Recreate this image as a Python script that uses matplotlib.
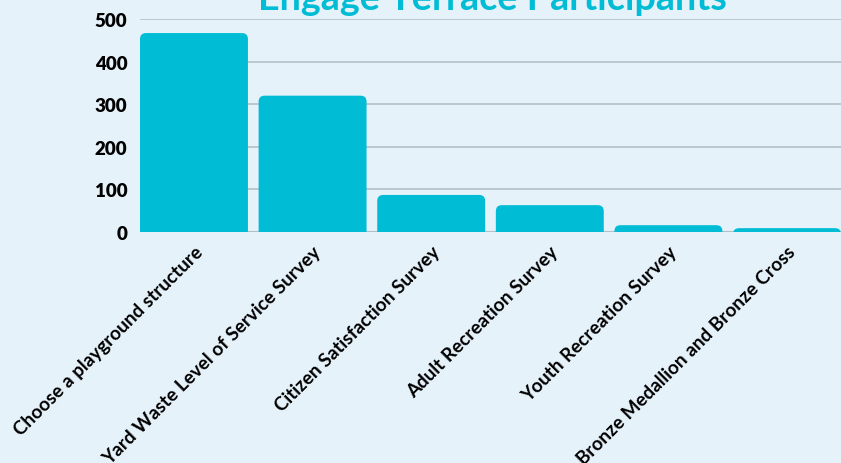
import numpy as np
import matplotlib
matplotlib.use("Agg")
import matplotlib.pyplot as plt
from matplotlib.patches import FancyBboxPatch

# ==================
# data
# ==================
categories = [
    "Choose a playground structure",
    "Yard Waste Level of Service Survey",
    "Citizen Satisfaction Survey",
    "Adult Recreation Survey",
    "Youth Recreation Survey",
    "Bronze Medallion and Bronze Cross",
]
participants = [467, 320, 87, 63, 16, 9]
yticks = [0, 100, 200, 300, 400, 500]
title = "Engage Terrace Participants"

bg = "#E6F2FA"
bar_color = "#00BCD4"

plt.rcParams['font.family'] = ['Lato', 'DejaVu Sans']

fig = plt.figure(figsize=(8.41, 4.64), dpi=100, facecolor=bg)
ax = fig.add_axes([140 / 841, 1 - 233 / 464, 701 / 841, 213 / 464])
ax.set_facecolor(bg)

x = np.arange(len(categories))
width = 0.91
bars = ax.bar(x, participants, width=width, color=bar_color, zorder=3)

# swap the plain rectangles for ones with rounded top corners
rx = 6 / 118.5  # ~6px in x data units
ry = 6 / 0.426  # ~6px in y data units
for b in bars:
    b.set_visible(False)
    p = FancyBboxPatch((b.get_x(), -30), b.get_width(), b.get_height() + 30,
                       boxstyle=f"round,pad=0,rounding_size={rx}",
                       mutation_aspect=ry / rx,
                       fc=bar_color, ec="none", zorder=3)
    ax.add_patch(p)

ax.set_xlim(-width / 2, len(categories) - 1 + width / 2)
ax.set_ylim(0, 500)
ax.set_yticks(yticks)
ax.set_yticklabels([str(t) for t in yticks], fontsize=13.5, fontweight='heavy')
ax.yaxis.grid(True, color="#B9C3CB", lw=1.3, zorder=0)
ax.axhline(0, color="#9AA3AA", lw=1.5, zorder=1)
ax.tick_params(axis='both', length=0)
ax.tick_params(axis='y', pad=9)

ax.set_xticks(x)
ax.set_xticklabels(categories, rotation=45, ha='right', va='top',
                   rotation_mode='anchor', fontsize=13.6, fontweight='bold')
ax.tick_params(axis='x', pad=8)

for s in ax.spines.values():
    s.set_visible(False)

# the title sits partly above the canvas, as in the source image
fig.text(492 / 841, 1 - 10 / 464, title, ha='center', va='baseline',
         fontsize=27.2, fontweight='bold', color=bar_color)

fig.savefig("out.png", dpi=100, facecolor=bg)
